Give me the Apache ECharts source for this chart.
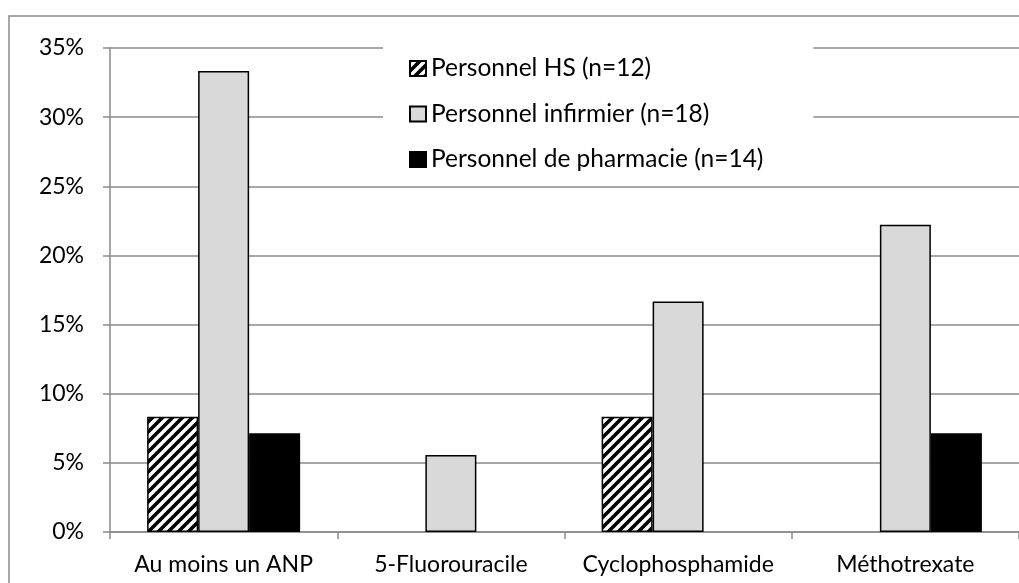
<!DOCTYPE html>
<html>
<head>
<meta charset="utf-8">
<script src="https://cdn.jsdelivr.net/npm/echarts@6/dist/echarts.min.js"></script>
<style>
html,body{margin:0;padding:0;background:#fff;}
#chart{width:1019px;height:583px;}
</style>
</head>
<body>
<div id="chart"></div>
<script>
const categories = ['Au moins un ANP', '5-Fluorouracile', 'Cyclophosphamide', 'Méthotrexate'];
const seriesNames = ['Personnel HS (n=12)', 'Personnel infirmier (n=18)', 'Personnel de pharmacie (n=14)'];
const hsValues = [8.33, 0, 8.33, 0];
const infirmierValues = [33.33, 5.56, 16.67, 22.22];
const pharmacieValues = [7.14, 0, 0, 7.14];
const yTicks = { min: 0, max: 35, interval: 5 };

function hatch() {
  const c = document.createElement('canvas');
  c.width = 10; c.height = 10;
  const ctx = c.getContext('2d');
  ctx.fillStyle = '#fff';
  ctx.fillRect(0, 0, 10, 10);
  ctx.strokeStyle = '#000';
  ctx.lineWidth = 3.6;
  ctx.lineCap = 'square';
  [-10, 0, 10].forEach(dx => {
    ctx.beginPath();
    ctx.moveTo(dx, 10);
    ctx.lineTo(dx + 10, 0);
    ctx.stroke();
  });
  return c;
}

const toData = arr => arr.map(v => (v === 0 ? '-' : v));
const FONT = 'Lato';
const chart = echarts.init(document.getElementById('chart'), null, { renderer: 'canvas' });

const barCommon = {
  type: 'bar',
  barWidth: 51,
  barGap: '0%',
  emphasis: { disabled: true }
};

chart.setOption({
  animation: false,
  backgroundColor: '#fff',
  textStyle: { fontFamily: FONT },
  graphic: [{
    type: 'rect',
    z: -10,
    silent: true,
    shape: { x: 9, y: 16, width: 1200, height: 1000 },
    style: { fill: 'none', stroke: '#8a8a8a', lineWidth: 1.5 }
  }],
  grid: { left: 110, right: -14, top: 48, bottom: 51, containLabel: false },
  legend: {
    orient: 'vertical',
    left: 383,
    top: 30,
    padding: [26, 50, 12, 26],
    backgroundColor: '#fff',
    icon: 'rect',
    itemWidth: 16,
    itemHeight: 15,
    itemGap: 20.5,
    z: 10,
    textStyle: { fontFamily: FONT, fontSize: 24.5, color: '#000', lineHeight: 24 },
    data: seriesNames
  },
  xAxis: {
    type: 'category',
    data: categories,
    axisLine: { lineStyle: { color: '#8a8a8a', width: 1.5 } },
    axisTick: { show: true, length: 7, lineStyle: { color: '#8a8a8a', width: 1.5 } },
    axisLabel: { color: '#000', fontFamily: FONT, fontSize: 23, margin: 21, interval: 0 },
    splitLine: { show: false }
  },
  yAxis: {
    type: 'value',
    min: yTicks.min,
    max: yTicks.max,
    interval: yTicks.interval,
    axisLine: { show: true, lineStyle: { color: '#8a8a8a', width: 1.5 } },
    axisTick: { show: true, length: 7, lineStyle: { color: '#8a8a8a', width: 1.5 } },
    axisLabel: { color: '#000', fontFamily: FONT, fontSize: 23, margin: 26, formatter: '{value}%' },
    splitLine: { show: true, lineStyle: { color: '#8a8a8a', width: 1.5 } }
  },
  series: [
    Object.assign({}, barCommon, {
      name: seriesNames[0],
      data: toData(hsValues),
      itemStyle: { color: { image: hatch(), repeat: 'repeat' }, borderColor: '#000', borderWidth: 1.5 }
    }),
    Object.assign({}, barCommon, {
      name: seriesNames[1],
      data: toData(infirmierValues),
      itemStyle: { color: '#d9d9d9', borderColor: '#000', borderWidth: 1.5 }
    }),
    Object.assign({}, barCommon, {
      name: seriesNames[2],
      data: toData(pharmacieValues),
      itemStyle: { color: '#000', borderColor: '#000', borderWidth: 1.5 }
    })
  ]
});
</script>
</body>
</html>
